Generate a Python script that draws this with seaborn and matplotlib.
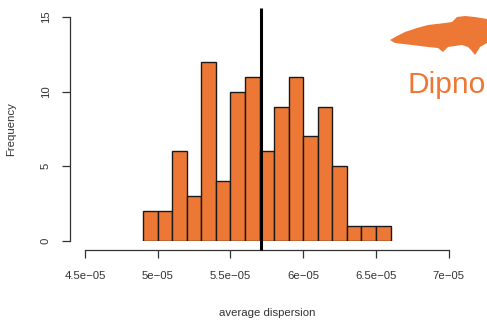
import matplotlib
matplotlib.use("Agg")
import matplotlib.pyplot as plt
from matplotlib.patches import Polygon
from matplotlib.ticker import FixedLocator, FixedFormatter
import seaborn as sns
import numpy as np
import pandas as pd

# Histogram of average dispersion (bin width 1e-06)
bin_starts = [4.9e-05, 5.0e-05, 5.1e-05, 5.2e-05, 5.3e-05, 5.4e-05, 5.5e-05, 5.6e-05,
              5.7e-05, 5.8e-05, 5.9e-05, 6.0e-05, 6.1e-05, 6.2e-05, 6.3e-05, 6.4e-05, 6.5e-05]
counts = [2, 2, 6, 3, 12, 4, 10, 11, 6, 9, 11, 7, 9, 5, 1, 1, 1]
bin_width = 1e-06
mean_value = 5.71e-05

x_ticks = [4.5e-05, 5.0e-05, 5.5e-05, 6.0e-05, 6.5e-05, 7.0e-05]
x_tick_labels = ["4.5e\u221205", "5e\u221205", "5.5e\u221205", "6e\u221205", "6.5e\u221205", "7e\u221205"]
y_ticks = [0, 5, 10, 15]
group_label = "Dipnoi"

sns.set_style("white")
plt.rcParams["font.family"] = ["Liberation Sans", "DejaVu Sans"]

ORANGE = "#ED7835"
W, H = 487, 328
fig = plt.figure(figsize=(W / 100, H / 100), dpi=100)
ax = fig.add_axes([85 / W, (H - 241) / H, (448.7 - 85) / W, (241 - 17) / H])

edges = list(bin_starts) + [bin_starts[-1] + bin_width]
df = pd.DataFrame({"dispersion": np.array(bin_starts) + bin_width / 2,
                   "count": np.array(counts, dtype=float)})
sns.histplot(data=df, x="dispersion", weights="count", bins=edges, ax=ax,
             color=ORANGE, alpha=1, edgecolor="#1a1a1a", linewidth=1.0)

ax.set_xlim(4.5e-05, 7.0e-05)
ax.set_ylim(0, 15)

# mean line spanning the plot region
ax.plot([mean_value, mean_value], [-0.6, 15.6], color="black", lw=2.2,
        clip_on=False, solid_capstyle="butt", zorder=5)

for s in ["top", "right"]:
    ax.spines[s].set_visible(False)
ax.spines["left"].set_position(("outward", 10.8))
ax.spines["bottom"].set_position(("outward", 6.5))
ax.spines["left"].set_bounds(0, 15)
ax.spines["bottom"].set_bounds(4.5e-05, 7.0e-05)
for s in ["left", "bottom"]:
    ax.spines[s].set_color("#333333")
    ax.spines[s].set_linewidth(0.9)

ax.xaxis.set_major_locator(FixedLocator(x_ticks))
ax.xaxis.set_major_formatter(FixedFormatter(x_tick_labels))
ax.set_yticks(y_ticks)
ax.set_yticklabels([str(v) for v in y_ticks], rotation=90, va="center")
ax.tick_params(axis="both", direction="out", length=5.8, width=0.9, color="#333333",
               labelsize=8.2, labelcolor="#333333", bottom=True, left=True)
ax.tick_params(axis="x", pad=9)
ax.tick_params(axis="y", pad=8)

ax.set_xlabel("average dispersion", fontsize=8.2, color="#333333", labelpad=20)
ax.set_ylabel("Frequency", fontsize=8.2, color="#333333", labelpad=18)

# silhouette of a lungfish, figure pixel coordinates
fish_px = [(390, 40), (397, 36), (405, 32), (417, 28), (428, 25), (445, 23), (452, 22),
           (457, 17), (465, 16), (475, 17), (487, 19), (487, 43), (480, 47), (477, 52),
           (475, 55), (471, 50), (468, 47), (462, 45), (448, 47), (443, 52), (438, 48),
           (428, 47), (412, 45), (395, 43)]
fish = Polygon([(x / W, 1 - y / H) for x, y in fish_px], closed=True,
               transform=fig.transFigure, facecolor=ORANGE, edgecolor="none")
fig.patches.append(fish)
fig.text(407 / W, 1 - 93 / H, group_label, fontsize=21.5, color=ORANGE,
         ha="left", va="baseline")

fig.savefig("out.png", dpi=100)
